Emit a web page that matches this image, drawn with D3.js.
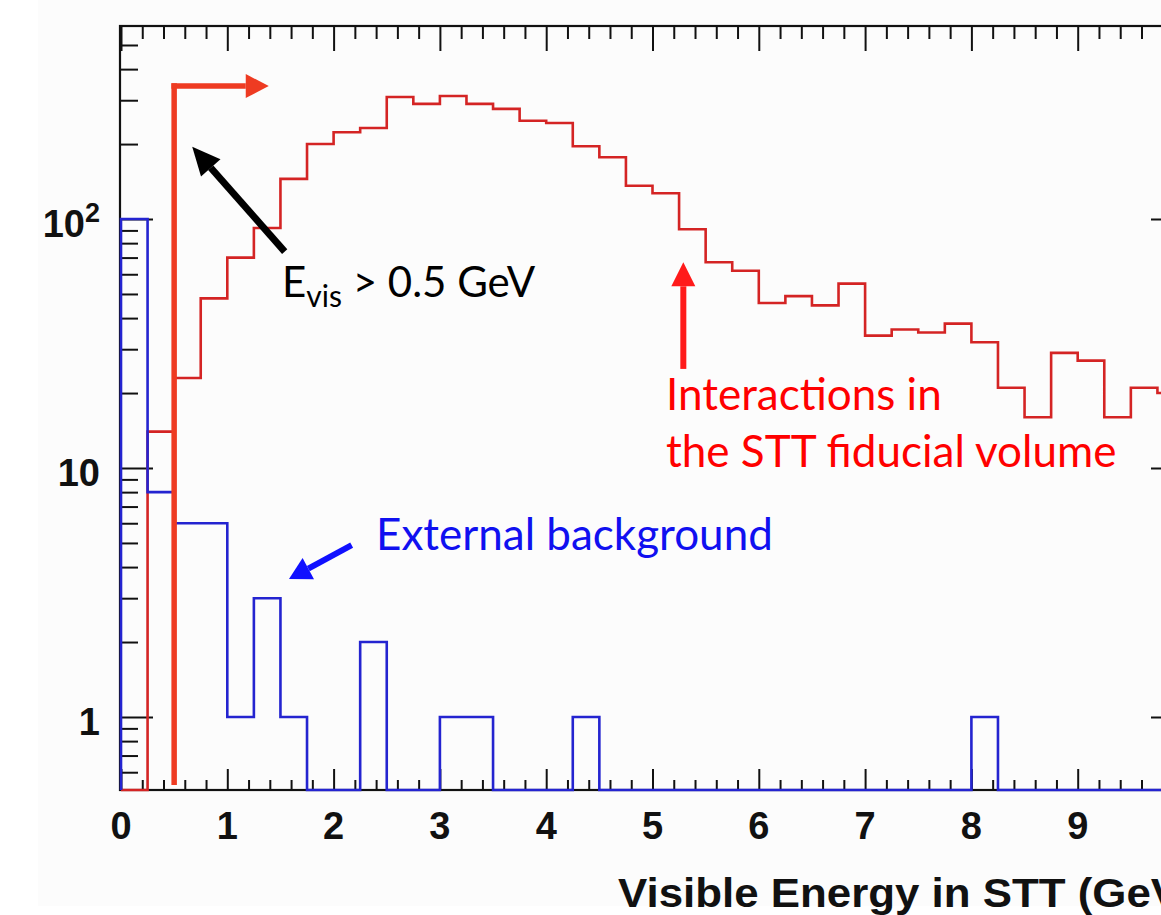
<!DOCTYPE html>
<html>
<head>
<meta charset="utf-8">
<script src="https://cdn.jsdelivr.net/npm/d3@7"></script>
<style>
  html, body { margin: 0; padding: 0; background: #ffffff; }
  svg { display: block; }
</style>
</head>
<body>
<svg id="chart" width="1161" height="915"></svg>
<script>
// ---------- DATA ----------
const binWidth = 0.25;
const binEdgesStart = 0;
// Interactions in the STT fiducial volume (red), 40 bins of 0.25 GeV
const signalCounts = [0, 14, 23, 48, 70, 92, 145, 200, 223, 232,
                      309, 290, 312, 290, 277, 248, 243, 196, 177, 136,
                      127, 91, 67, 62, 46, 49, 45, 55, 34, 36,
                      35, 38, 32, 21, 16, 29, 27, 16, 21, 20];
// External background (blue)
const backgroundCounts = [100, 8, 6, 6, 1, 3, 1, 0, 0, 2,
                          0, 0, 1, 1, 0, 0, 0, 1, 0, 0,
                          0, 0, 0, 0, 0, 0, 0, 0, 0, 0,
                          0, 0, 1, 0, 0, 0, 0, 0, 0, 0];
const xTickLabels = ["0","1","2","3","4","5","6","7","8","9"];
const yTickValues = [1, 10, 100];
const xTitle = "Visible Energy in STT (GeV)";
const cutValue = 0.5;      // E_vis cut
const cutArrowTop = 342;   // height of cut marker
const cutArrowEnd = 1.39;

// ---------- LAYOUT ----------
const W = 1161, H = 915;
const L = 121, R = 1184, T = 26, B = 790;
const svg = d3.select("#chart");

svg.append("rect").attr("x", 38).attr("y", 0).attr("width", W - 38).attr("height", 906).attr("fill", "#fcfcfc");

const x = d3.scaleLinear().domain([0, 10]).range([L, R]);
const y = d3.scaleLog().domain([0.509, 596]).range([B, T]).clamp(true);

const defs = svg.append("defs");
defs.append("clipPath").attr("id", "plotclip")
  .append("rect").attr("x", L - 2).attr("y", T).attr("width", R - L + 4).attr("height", B - T + 2);

// Frame
svg.append("rect").attr("x", L - 1).attr("y", T).attr("width", R - L + 1).attr("height", B - T)
  .attr("fill", "none").attr("stroke", "#111").attr("stroke-width", 2.2);

// Axis ticks via d3 axes
const xMajor = d3.range(0, 11, 1);
const xMinor = d3.range(0, 10.001, 0.2).filter(v => Math.abs(v - Math.round(v)) > 1e-6);

function tickGroup(axisGen, transform) {
  const g = svg.append("g").attr("transform", transform).call(axisGen);
  g.select(".domain").remove();
  g.selectAll("line").attr("stroke", "#111").attr("stroke-width", 2);
  g.selectAll("text").remove();
  return g;
}
// bottom (inward up)
tickGroup(d3.axisTop(x).tickValues(xMajor).tickSize(21), `translate(0,${B})`);
tickGroup(d3.axisTop(x).tickValues(xMinor).tickSize(10), `translate(0,${B})`);
// top (inward down)
tickGroup(d3.axisBottom(x).tickValues(xMajor).tickSize(25), `translate(0,${T})`);
tickGroup(d3.axisBottom(x).tickValues(xMinor).tickSize(13), `translate(0,${T})`);

// y ticks
const yMinor = [];
[0.1, 1, 10, 100].forEach(d => { for (let k = 2; k <= 9; k++) { const v = d * k; if (v >= 0.509 && v <= 596) yMinor.push(v); } });
tickGroup(d3.axisRight(y).tickValues(yTickValues).tickSize(33), `translate(${L - 1},0)`);
tickGroup(d3.axisRight(y).tickValues(yMinor).tickSize(18), `translate(${L - 1},0)`);
tickGroup(d3.axisLeft(y).tickValues(yTickValues).tickSize(33), `translate(${R},0)`);
tickGroup(d3.axisLeft(y).tickValues(yMinor).tickSize(18), `translate(${R},0)`);

// Tick labels
const labelFont = "'Liberation Sans', Arial, Helvetica, sans-serif";
svg.append("g").selectAll("text").data(xTickLabels).join("text")
  .attr("x", (d, i) => x(i)).attr("y", 839)
  .attr("text-anchor", "middle").attr("font-family", labelFont).attr("font-weight", "bold")
  .attr("font-size", 38).attr("fill", "#111").text(d => d);

const yl = svg.append("g");
yTickValues.forEach(v => {
  const t = yl.append("text").attr("x", 100).attr("y", y(v) + 18)
    .attr("text-anchor", "end").attr("font-family", labelFont).attr("font-weight", "bold")
    .attr("font-size", 38).attr("fill", "#111");
  if (v === 100) {
    t.append("tspan").text("10");
    t.append("tspan").attr("font-size", 27).attr("dy", -15).text("2");
  } else {
    t.text(String(v));
  }
});

// X axis title (clipped at the right edge, as in the reference)
svg.append("text").attr("transform", "translate(618,907) scale(1.07,1)").attr("x", 0).attr("y", 0)
  .attr("text-anchor", "start")
  .attr("font-family", labelFont).attr("font-weight", "bold").attr("font-size", 41)
  .attr("fill", "#111").text(xTitle);

// ---------- HISTOGRAMS ----------
function histPoints(counts) {
  const pts = [[binEdgesStart, null]];
  counts.forEach((c, i) => {
    const v = c > 0 ? c : 0.0001;
    pts.push([binEdgesStart + i * binWidth, v]);
    pts.push([binEdgesStart + (i + 1) * binWidth, v]);
  });
  pts.push([binEdgesStart + counts.length * binWidth, null]);
  return pts;
}
const hLine = d3.line().x(d => x(d[0])).y(d => d[1] === null ? B : y(d[1]));

const plot = svg.append("g").attr("clip-path", "url(#plotclip)");
plot.append("path").attr("d", hLine(histPoints(signalCounts)))
  .attr("fill", "none").attr("stroke", "#d42424").attr("stroke-width", 2.6).attr("stroke-linejoin", "miter");
plot.append("path").attr("d", hLine(histPoints(backgroundCounts)))
  .attr("fill", "none").attr("stroke", "#2424d0").attr("stroke-width", 2.6).attr("stroke-linejoin", "miter");

// ---------- ANNOTATIONS ----------
function arrow(g, x1, y1, x2, y2, color, width, headLen, headW) {
  const ang = Math.atan2(y2 - y1, x2 - x1);
  const bx = x2 - headLen * Math.cos(ang), by = y2 - headLen * Math.sin(ang);
  g.append("line").attr("x1", x1).attr("y1", y1).attr("x2", bx).attr("y2", by)
    .attr("stroke", color).attr("stroke-width", width);
  const px = -Math.sin(ang) * headW / 2, py = Math.cos(ang) * headW / 2;
  g.append("polygon").attr("points", `${x2},${y2} ${bx + px},${by + py} ${bx - px},${by - py}`)
    .attr("fill", color);
}
const ann = svg.append("g");
// cut marker
ann.append("line").attr("x1", x(cutValue)).attr("x2", x(cutValue)).attr("y1", 785).attr("y2", y(cutArrowTop) - 2.75)
  .attr("stroke", "#ee3b22").attr("stroke-width", 5.5);
arrow(ann, x(cutValue) - 2.75, y(cutArrowTop), x(cutArrowEnd), y(cutArrowTop), "#ee3b22", 5.5, 23, 24);

// black arrow
arrow(ann, x(1.54), y(74), x(0.67), y(195), "#000", 7, 28, 26);
// red arrow
arrow(ann, x(5.29), y(25), x(5.29), y(67), "#ff1a1a", 6, 24, 24);
// blue arrow
arrow(ann, x(2.17), y(4.9), x(1.58), y(3.58), "#1010ff", 6, 22, 24);

const annFont = "Lato, 'Open Sans', sans-serif";
const t1 = ann.append("text").attr("x", 282).attr("y", 297).attr("font-family", annFont)
  .attr("font-size", 42).attr("fill", "#000");
t1.append("tspan").text("E");
t1.append("tspan").attr("font-size", 30).attr("dy", 10).text("vis");
t1.append("tspan").attr("dy", -10).text(" > 0.5 GeV");

const t2 = ann.append("text").attr("font-family", annFont).attr("font-size", 44).attr("fill", "#ff0000");
t2.append("tspan").attr("x", 666).attr("y", 410).text("Interactions in");
t2.append("tspan").attr("x", 666).attr("y", 467).text("the STT fiducial volume");

ann.append("text").attr("x", 376).attr("y", 550).attr("font-family", annFont).attr("font-size", 44)
  .attr("fill", "#1010f0").text("External background");
</script>
</body>
</html>
